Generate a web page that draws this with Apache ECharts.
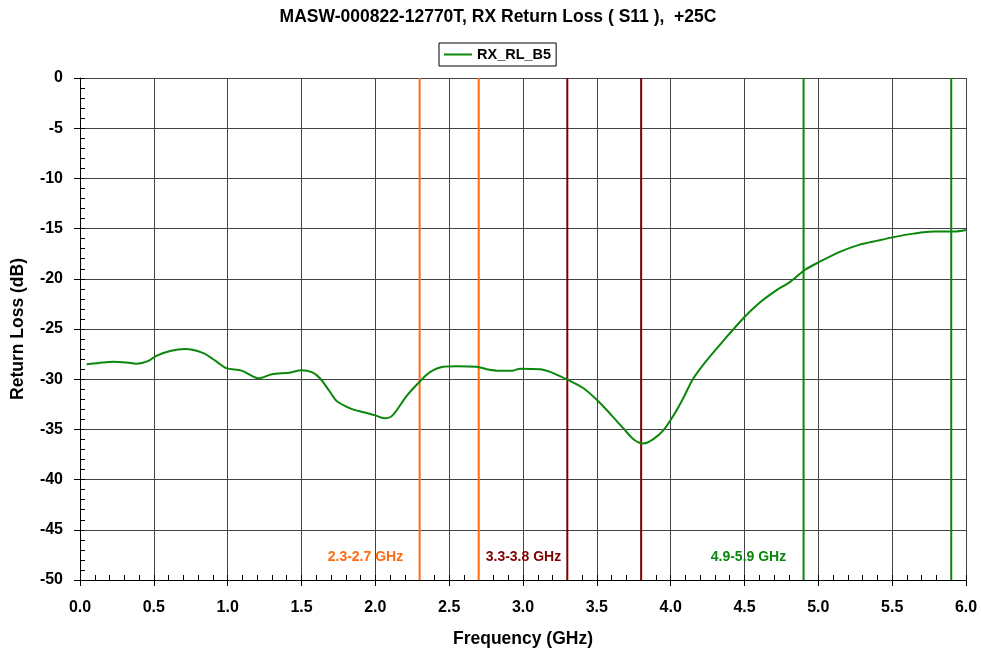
<!DOCTYPE html>
<html><head><meta charset="utf-8">
<script src="https://cdn.jsdelivr.net/npm/echarts@6/dist/echarts.min.js"></script>
<style>html,body{margin:0;padding:0;background:#fff}#c{width:981px;height:649px}</style>
</head><body><div id="c"></div>
<script>
const freqGHz = [0.045,0.12,0.226,0.293,0.384,0.46,0.52,0.61,0.71,0.835,0.925,0.99,1.095,1.21,1.30,1.42,1.50,1.57,1.625,1.69,1.74,1.83,1.92,2.0,2.065,2.12,2.21,2.29,2.37,2.46,2.55,2.685,2.755,2.84,2.93,2.98,3.115,3.18,3.25,3.295,3.41,3.51,3.6,3.68,3.75,3.815,3.88,3.95,4.02,4.085,4.15,4.24,4.355,4.50,4.60,4.72,4.81,4.91,5.01,5.15,5.28,5.40,5.51,5.645,5.78,5.92,6.0];
const returnLossDb = [-28.5,-28.4,-28.25,-28.3,-28.45,-28.2,-27.65,-27.2,-27.0,-27.4,-28.25,-28.9,-29.15,-29.9,-29.5,-29.35,-29.1,-29.3,-29.9,-31.2,-32.2,-32.9,-33.3,-33.6,-33.9,-33.55,-31.7,-30.4,-29.3,-28.75,-28.7,-28.75,-29.0,-29.15,-29.15,-28.95,-29.0,-29.25,-29.7,-30.0,-30.9,-32.2,-33.6,-34.9,-36.0,-36.4,-36.0,-35.1,-33.6,-31.9,-30.0,-28.2,-26.2,-23.8,-22.4,-21.1,-20.3,-19.1,-18.3,-17.3,-16.6,-16.2,-15.85,-15.5,-15.3,-15.3,-15.15];
const bandEdges = [2.3,2.7,3.3,3.8,4.9,5.9];
const bandColors = ['#ff6a13','#ff6a13','#800000','#800000','#0a870a','#0a870a'];
const bandLabels = ['2.3-2.7 GHz','3.3-3.8 GHz','4.9-5.9 GHz'];
const bandLabelX = [1.933,3.003,4.527];
const bandLabelY = -47.76;
const bandLabelColors = ['#ff6a13','#800000','#0a870a'];
const xTicks = ['0.0','0.5','1.0','1.5','2.0','2.5','3.0','3.5','4.0','4.5','5.0','5.5','6.0'];

const FONT = 'Arial, "Liberation Sans", sans-serif';
const chart = echarts.init(document.getElementById('c'));
const curve = freqGHz.map((f,i)=>[f,returnLossDb[i]]);
const series = [{
  name:'RX_RL_B5', type:'line', data:curve, showSymbol:false, smooth:0.3,
  lineStyle:{color:'#0a870a',width:2}, itemStyle:{color:'#0a870a'}, z:5
}];
bandEdges.forEach((f,i)=>{
  series.push({type:'line', data:[[f,-50],[f,0]], showSymbol:false, silent:true,
    lineStyle:{color:bandColors[i],width:2}, z:4});
});
series.push({type:'scatter', symbolSize:0, silent:true, z:6,
  data:bandLabels.map((t,i)=>({value:[bandLabelX[i],bandLabelY],
    label:{show:true,formatter:t,color:bandLabelColors[i],fontFamily:FONT,fontWeight:'bold',fontSize:14,
      position:'inside',textBorderWidth:0,textShadowBlur:0,opacity:1}}))});

const nameStyle = {fontFamily:FONT,fontWeight:'bold',fontSize:17.5,color:'#000'};
const labelStyle = {fontFamily:FONT,fontWeight:'bold',fontSize:16,color:'#000'};
chart.setOption({
  animation:false,
  title:{text:'MASW-000822-12770T, RX Return Loss ( S11 ),  +25C', left:493, textAlign:'center', top:3,
    textStyle:{fontFamily:FONT,fontWeight:'bold',fontSize:17.5,color:'#000'}},
  legend:{data:['RX_RL_B5'], left:439, top:43, padding:[4,5,4,5], borderColor:'#000', borderWidth:1,
    itemWidth:28, itemHeight:2, icon:'rect',
    textStyle:{fontFamily:FONT,fontWeight:'bold',fontSize:14.5,color:'#000'}},
  grid:{left:80,right:15,top:78,bottom:69,containLabel:false,outerBoundsMode:'none'},
  xAxis:[{type:'value',min:0,max:6,interval:0.5,
    name:'Frequency (GHz)', nameLocation:'middle', nameGap:50, nameTextStyle:nameStyle,
    axisLine:{show:true,onZero:false,lineStyle:{color:'#000',width:1}},
    axisTick:{show:true,inside:true,length:5,lineStyle:{color:'#000'}},
    minorTick:{show:true,splitNumber:5,length:5,lineStyle:{color:'#000'}},
    axisLabel:{...labelStyle,margin:20,formatter:v=>xTicks[Math.round(v*2)]},
    splitLine:{show:true,lineStyle:{color:'#444',width:1}}},
   {type:'value',min:0,max:6,interval:0.5,position:'bottom',
    axisLine:{show:false,onZero:false},axisLabel:{show:false},splitLine:{show:false},
    axisTick:{show:true,inside:false,length:6,lineStyle:{color:'#000'}}}],
  yAxis:[{type:'value',min:-50,max:0,interval:5,
    name:'Return Loss (dB)', nameLocation:'middle', nameGap:53, nameTextStyle:nameStyle,
    axisLine:{show:true,onZero:false,lineStyle:{color:'#000',width:1}},
    axisTick:{show:true,inside:true,length:5,lineStyle:{color:'#000'}},
    minorTick:{show:true,splitNumber:5,length:5,lineStyle:{color:'#000'}},
    axisLabel:{...labelStyle,margin:17},
    splitLine:{show:true,lineStyle:{color:'#444',width:1}}},
   {type:'value',min:-50,max:0,interval:5,position:'left',
    axisLine:{show:false,onZero:false},axisLabel:{show:false},splitLine:{show:false},
    axisTick:{show:true,inside:false,length:6,lineStyle:{color:'#000'}}}],
  series
});
</script></body></html>
